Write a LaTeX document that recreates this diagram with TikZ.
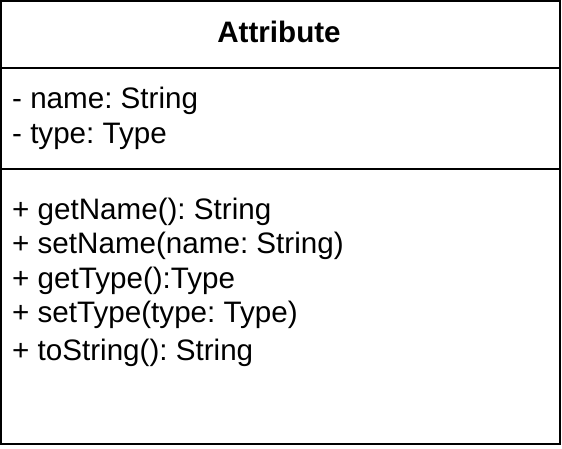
\documentclass[tikz,border=0pt]{standalone}
\usepackage{fontspec}
\setmainfont{Liberation Sans}
\frenchspacing
\begin{document}
\begin{tikzpicture}[x=1pt,y=-1pt,
  frame/.style={draw=black,line width=2pt},
  member/.style={anchor=base west,inner sep=0pt,font=\fontsize{29.6}{35}\selectfont},
  title/.style={anchor=base,inner sep=0pt,font=\bfseries\fontsize{29.6}{35}\selectfont}]
\useasboundingbox (0,0) rectangle (562,448);
% class box and compartment separators
\draw[frame] (1,1) rectangle (560,444);
\coordinate (s1l) at (1,68);
\coordinate (s1r) at (560,68);
\coordinate (s2l) at (1,169);
\coordinate (s2r) at (560,169);
\draw[frame] (s1l) -- (s1r);
\draw[frame] (s2l) -- (s2r);
% class name
\node[title] (cname) at (279,42.5) {Attribute};
% attributes
\node[member] (a1) at (12,108.5) {- name: String};
\node[member] (a2) at (12,143.5) {- type: Type};
% operations
\node[member] (m1) at (12,219) {+ getName(): String};
\node[member] (m2) at (12,253.5) {+ setName(name: String)};
\node[member] (m3) at (12,288) {+ getType():Type};
\node[member] (m4) at (12,322.5) {+ setType(type: Type)};
\node[member] (m5) at (12,360) {+ toString(): String};
\end{tikzpicture}
\end{document}
